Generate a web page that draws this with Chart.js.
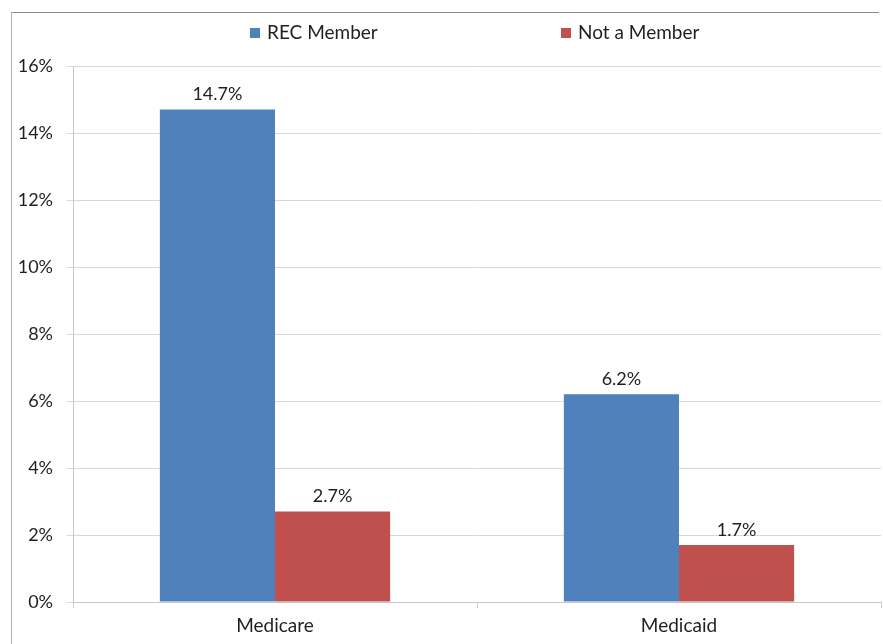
<!DOCTYPE html>
<html>
<head>
<meta charset="utf-8">
<script src="https://cdn.jsdelivr.net/npm/chart.js@4"></script>
<style>
  html, body { margin: 0; padding: 0; background: #fff; overflow: hidden; }
  #wrap { position: absolute; left: 0; top: 0; width: 883px; height: 644px; }
</style>
</head>
<body>
<div id="wrap"><canvas id="chart"></canvas></div>
<script>
// * =============== データ =============== *
const categories = ["Medicare", "Medicaid"];
const recMember = [14.7, 6.2];   // %
const notMember = [2.7, 1.7];    // %
const seriesNames = ["REC Member", "Not a Member"];
const yTicks = [0, 2, 4, 6, 8, 10, 12, 14, 16];

const FONT = "Lato";
const BLUE = "#4f81bd";
const RED = "#c0504d";

// 外枠（上と左だけ見えている）
const frameLines = {
  id: "frameLines",
  beforeDraw(chart) {
    const ctx = chart.ctx;
    ctx.save();
    ctx.lineWidth = 1;
    ctx.strokeStyle = "#8c8c8c";
    ctx.beginPath();
    ctx.moveTo(11, 12.5);
    ctx.lineTo(chart.width - 4, 12.5);
    ctx.stroke();
    ctx.strokeStyle = "#b0b0b0";
    ctx.beginPath();
    ctx.moveTo(11.5, 12);
    ctx.lineTo(11.5, chart.height);
    ctx.stroke();
    ctx.restore();
  }
};

// バーの上に値を書く
const valueLabels = {
  id: "valueLabels",
  afterDatasetsDraw(chart) {
    const ctx = chart.ctx;
    ctx.save();
    ctx.font = "18px " + FONT;
    ctx.fillStyle = "#1f1f1f";
    ctx.textAlign = "center";
    ctx.textBaseline = "bottom";
    chart.data.datasets.forEach((ds, i) => {
      chart.getDatasetMeta(i).data.forEach((bar, j) => {
        ctx.fillText(ds.data[j].toFixed(1) + "%", bar.x, bar.y - 6);
      });
    });
    ctx.restore();
  }
};

// 凡例（項目の間が広いので自前で描く）
const wideLegend = {
  id: "wideLegend",
  afterDraw(chart) {
    const ctx = chart.ctx;
    const xs = [250, 561];
    ctx.save();
    ctx.font = "19px " + FONT;
    ctx.textBaseline = "middle";
    ctx.textAlign = "left";
    chart.data.datasets.forEach((ds, i) => {
      ctx.fillStyle = ds.backgroundColor;
      ctx.fillRect(xs[i], 28, 10, 10);
      ctx.fillStyle = "#1f1f1f";
      ctx.fillText(ds.label, xs[i] + 17, 33);
    });
    ctx.restore();
  }
};

new Chart(document.getElementById("chart"), {
  type: "bar",
  data: {
    labels: categories,
    datasets: [
      { label: seriesNames[0], data: recMember, backgroundColor: BLUE },
      { label: seriesNames[1], data: notMember, backgroundColor: RED }
    ]
  },
  options: {
    responsive: true,
    maintainAspectRatio: false,
    animation: false,
    datasets: { bar: { categoryPercentage: 0.57, barPercentage: 1.0 } },
    layout: { padding: { top: 66, right: 2, left: 0, bottom: 0 } },
    plugins: { legend: { display: false }, tooltip: { enabled: false } },
    scales: {
      x: {
        afterFit: s => { s.height = 42; },
        grid: { offset: true, drawOnChartArea: false, color: "#d0d0d0", tickLength: 6 },
        border: { color: "#c8c8c8" },
        ticks: { font: { family: FONT, size: 19 }, color: "#1f1f1f", padding: 6 }
      },
      y: {
        min: 0,
        max: 16,
        afterFit: s => { s.width = 73; },
        afterBuildTicks: s => { s.ticks = yTicks.map(v => ({ value: v })); },
        grid: { color: "#d9d9d9", tickLength: 6 },
        border: { color: "#c8c8c8" },
        ticks: {
          font: { family: FONT, size: 18 }, color: "#1f1f1f", padding: 14,
          callback: v => v + "%"
        }
      }
    }
  },
  plugins: [frameLines, valueLabels, wideLegend]
});
</script>
</body>
</html>
